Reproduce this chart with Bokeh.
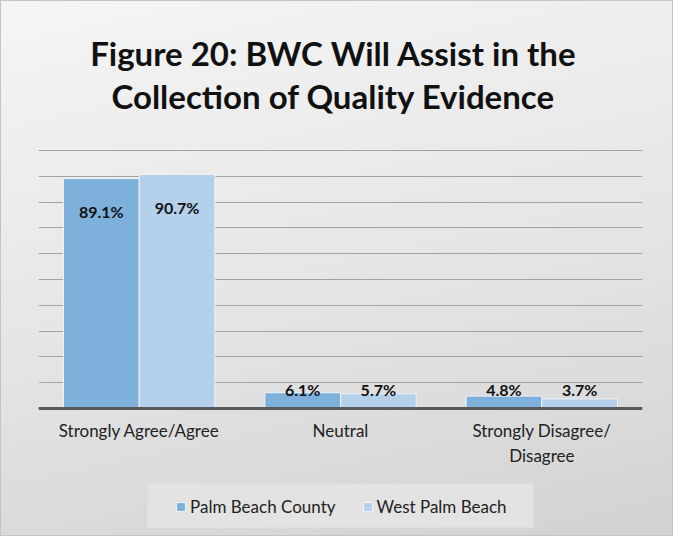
from bokeh.plotting import figure
from bokeh.models import (ColumnDataSource, FactorRange, Range1d, SingleIntervalTicker,
                          Legend, LegendItem, Label, BoxAnnotation)
from bokeh.transform import dodge
from bokeh.embed import file_html
from bokeh.resources import INLINE
from bokeh.core.properties import value

# ---- data ----
categories = ["Strongly Agree/Agree", "Neutral", "Strongly Disagree/\nDisagree"]
series_names = ["Palm Beach County", "West Palm Beach"]
palm_beach_county = [89.1, 6.1, 4.8]
west_palm_beach = [90.7, 5.7, 3.7]
title_lines = ["Figure 20: BWC Will Assist in the", "Collection of Quality Evidence"]
y_axis_max = 100
grid_step = 10

# ---- style / layout (pixels) ----
W, H = 673, 536
PLOT_LEFT, PLOT_RIGHT = 38, 31          # horizontal margins around plot area
PLOT_TOP_PX, PLOT_BOTTOM_PX = 150, 408  # where 100% and 0% sit, from top of canvas
PX_PER_UNIT = (PLOT_BOTTOM_PX - PLOT_TOP_PX) / y_axis_max
CAT_PX = (W - PLOT_LEFT - PLOT_RIGHT) / len(categories)
Y_START = -(H - PLOT_BOTTOM_PX) / PX_PER_UNIT
Y_END = y_axis_max + PLOT_TOP_PX / PX_PER_UNIT
BAR_W = 0.376
COLORS = ["#7DB1DC", "#B4D0EA"]
FONT = "Lato"
TITLE_SHIFT = 2   # visual centre of caps sits this far below the given y
LABEL_SHIFT = 5.5

def px_to_y(py):
    """canvas pixel row -> data y"""
    return (PLOT_BOTTOM_PX - py) / PX_PER_UNIT

def px_to_x(px):
    """canvas pixel column -> synthetic categorical x"""
    return (px - PLOT_LEFT) / CAT_PX

p = figure(x_range=FactorRange(factors=categories, range_padding=0),
           y_range=Range1d(Y_START, Y_END),
           width=W, height=H, output_backend="svg", toolbar_location=None,
           min_border_left=PLOT_LEFT, min_border_right=PLOT_RIGHT,
           min_border_top=0, min_border_bottom=0)

p.border_fill_color = None
p.background_fill_color = None
p.outline_line_color = None
p.styles = {"background-image": "linear-gradient(168deg, #f5f5f5 0%, #e6e6e6 50%, #d2d2d2 100%)",
            "box-shadow": "inset 0 0 0 1px #c4c4c4"}

src = ColumnDataSource(dict(cat=categories, a=palm_beach_county, b=west_palm_beach))

r1 = p.vbar(x=dodge("cat", -BAR_W / 2, range=p.x_range), top="a", bottom=0, width=BAR_W,
            source=src, fill_color=COLORS[0], line_color="#eef3f8", line_width=1)
r2 = p.vbar(x=dodge("cat", BAR_W / 2, range=p.x_range), top="b", bottom=0, width=BAR_W,
            source=src, fill_color=COLORS[1], line_color="#eef3f8", line_width=1)

# data labels: inside end for tall bars; short bars share one row above the tallest short bar
INSIDE_PX, OUTSIDE_PX = 27.3, 8.6   # distance of label centre from bar top
short_top = max(v for v in palm_beach_county + west_palm_beach if v <= 50)
def label_y(v):
    if v > 50:
        return v + (-INSIDE_PX - LABEL_SHIFT) / PX_PER_UNIT
    return short_top + (OUTSIDE_PX - LABEL_SHIFT) / PX_PER_UNIT

lab = ColumnDataSource(dict(
    cat=categories,
    ya=[label_y(v) for v in palm_beach_county],
    yb=[label_y(v) for v in west_palm_beach],
    ta=[f"{v:.1f}%" for v in palm_beach_county],
    tb=[f"{v:.1f}%" for v in west_palm_beach],
))
for col_y, col_t, off in (("ya", "ta", -BAR_W / 2), ("yb", "tb", BAR_W / 2)):
    p.text(x=dodge("cat", off, range=p.x_range), y=col_y, text=col_t, source=lab,
           text_align="center", text_baseline="alphabetic",
           text_font=value(FONT), text_font_style="bold", text_font_size="16px",
           text_color="#111111")

# axes & grid
p.yaxis.visible = False
p.xgrid.grid_line_color = None
p.ygrid.ticker = SingleIntervalTicker(interval=grid_step)
p.ygrid.bounds = (0, y_axis_max)
p.ygrid.grid_line_color = "#a3a3a3"
p.ygrid.grid_line_width = 1
xa = p.xaxis[0]
xa.fixed_location = 0
xa.axis_line_color = "#595959"
xa.axis_line_width = 3
xa.major_tick_line_color = None
xa.minor_tick_line_color = None
xa.major_tick_out = 0
xa.major_tick_in = 0
xa.major_label_standoff = 11
xa.major_label_text_font = FONT
xa.major_label_text_font_size = "17px"
xa.major_label_text_color = "#222222"

# title (two centred lines)
TITLE_X_PX = 333
for t, centre_px in zip(title_lines, [54.7, 97.5]):
    p.add_layout(Label(x=px_to_x(TITLE_X_PX), y=px_to_y(centre_px - TITLE_SHIFT), text=t,
                       text_align="center", text_baseline="alphabetic", text_font=FONT,
                       text_font_style="bold", text_font_size="33px", text_color="#111111"))

# legend box + legend
p.add_layout(BoxAnnotation(left=px_to_x(147), right=px_to_x(533),
                           top=px_to_y(483), bottom=px_to_y(527),
                           fill_color="#e3e3e3", fill_alpha=1.0, line_color=None))
legend = Legend(items=[LegendItem(label=series_names[0], renderers=[r1]),
                       LegendItem(label=series_names[1], renderers=[r2])],
                orientation="horizontal", location=(137, 19),
                glyph_width=11, glyph_height=11, label_standoff=4, spacing=26, padding=0,
                margin=0,
                label_text_font=FONT, label_text_font_size="17px", label_text_color="#222222",
                background_fill_alpha=0.0, border_line_color=None)
p.add_layout(legend, "center")

open("out.html", "w").write(file_html(p, INLINE))
